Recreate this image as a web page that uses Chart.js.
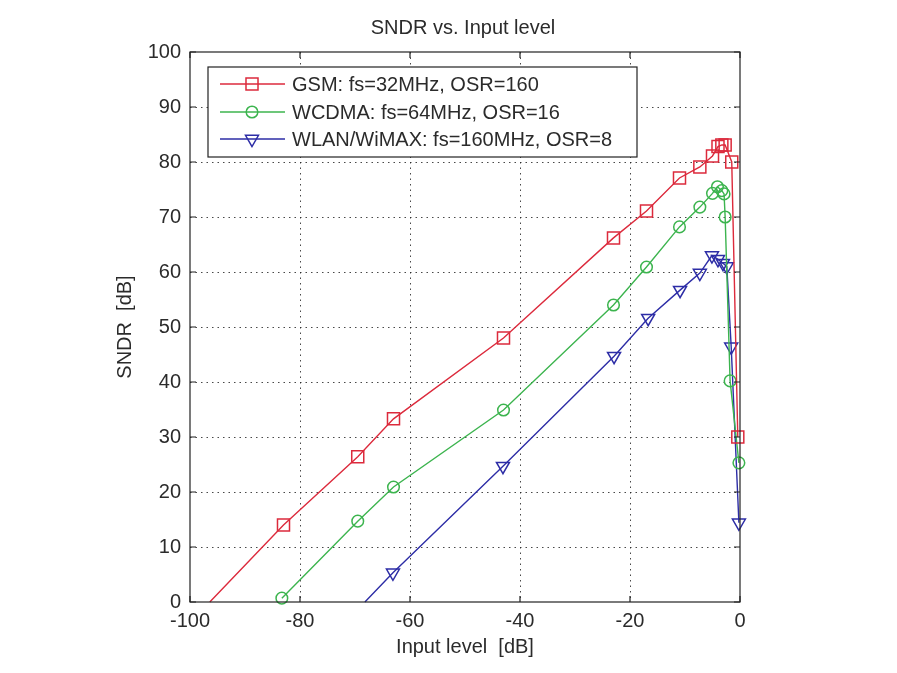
<!DOCTYPE html>
<html lang="en">

<head>
    <meta charset="UTF-8">
    <title>SNDR vs. Input level</title>
    <script src="https://cdn.jsdelivr.net/npm/chart.js"></script>
    <style>
        body {
            margin: 0;
            padding: 0;
            background: #fff;
        }
    </style>
</head>

<body>
    <canvas id="sndrChart" width="897" height="673"></canvas>

    <script>
        // Input level [dB] / SNDR [dB] for each standard
        const gsmLevel = [-96.4, -83, -69.5, -63, -43, -23, -17, -11, -7.3, -5, -4, -3.3, -2.7, -1.5, -0.4];
        const gsmSndr = [0, 14, 26.4, 33.3, 48, 66.2, 71.1, 77.1, 79.1, 81.1, 82.8, 83.1, 83.1, 80, 30];

        const wcdmaLevel = [-83.3, -69.5, -63, -43, -23, -17, -11, -7.3, -5, -4.1, -3.3, -2.9, -2.7, -1.8, -0.2];
        const wcdmaSndr = [0.7, 14.7, 20.9, 34.9, 54, 60.9, 68.2, 71.8, 74.3, 75.5, 74.8, 74.2, 70, 40.2, 25.3];

        const wlanLevel = [-68.2, -63.1, -43.1, -22.9, -16.7, -10.9, -7.3, -5.1, -4, -3.1, -2.4, -1.6, -0.2];
        const wlanSndr = [0, 5.3, 24.7, 44.7, 51.6, 56.7, 59.8, 63, 62.3, 61.6, 61, 46.4, 14.4];

        const seriesNames = [
            'GSM: fs=32MHz, OSR=160',
            'WCDMA: fs=64MHz, OSR=16',
            'WLAN/WiMAX: fs=160MHz, OSR=8'
        ];

        const xTicks = [-100, -80, -60, -40, -20, 0];
        const yTicks = [0, 10, 20, 30, 40, 50, 60, 70, 80, 90, 100];

        const textColor = '#2b2b2b';
        const fontFamily = "'Liberation Sans', Arial, sans-serif";
        Chart.defaults.font.family = fontFamily;
        Chart.defaults.font.size = 20;
        Chart.defaults.color = textColor;

        function toPoints(xs, ys) {
            return xs.map((x, i) => ({ x: x, y: ys[i] }));
        }

        // points sitting on the x axis are just where the line leaves the plot, no marker there
        function markerRadius(ys, r) {
            return ys.map(y => (y === 0 ? 0 : r));
        }

        const styles = [
            { color: '#dc2a3c', pointStyle: 'rect', radius: 8.5, rotation: 0 },
            { color: '#3cb44e', pointStyle: 'circle', radius: 5.8, rotation: 0 },
            { color: '#2d2da6', pointStyle: 'triangle', radius: 7.5, rotation: 180 }
        ];

        function makeDataset(i, xs, ys) {
            const s = styles[i];
            return {
                label: seriesNames[i],
                data: toPoints(xs, ys),
                borderColor: s.color,
                borderWidth: 1.4,
                pointStyle: s.pointStyle,
                pointRadius: markerRadius(ys, s.radius),
                pointRotation: s.rotation,
                pointBorderColor: s.color,
                pointBackgroundColor: 'rgba(0,0,0,0)',
                pointBorderWidth: 1.5,
                tension: 0,
                clip: false
            };
        }

        // dotted grid behind the curves, box with inward ticks and the title on top
        const matlabAxes = {
            id: 'matlabAxes',
            beforeDatasetsDraw(chart) {
                const { ctx, chartArea: a, scales } = chart;
                ctx.save();
                ctx.strokeStyle = 'rgba(40,40,40,0.85)';
                ctx.lineWidth = 1;
                ctx.setLineDash([1.5, 4]);
                xTicks.slice(1, -1).forEach(v => {
                    const px = Math.round(scales.x.getPixelForValue(v)) + 0.5;
                    ctx.beginPath();
                    ctx.moveTo(px, a.top);
                    ctx.lineTo(px, a.bottom);
                    ctx.stroke();
                });
                yTicks.slice(1, -1).forEach(v => {
                    const py = Math.round(scales.y.getPixelForValue(v)) + 0.5;
                    ctx.beginPath();
                    ctx.moveTo(a.left, py);
                    ctx.lineTo(a.right, py);
                    ctx.stroke();
                });
                ctx.restore();
            },
            afterDatasetsDraw(chart) {
                const { ctx, chartArea: a, scales } = chart;
                const tl = 6;
                ctx.save();
                ctx.strokeStyle = '#222';
                ctx.lineWidth = 1.2;
                ctx.strokeRect(a.left, a.top, a.right - a.left, a.bottom - a.top);
                ctx.beginPath();
                xTicks.forEach(v => {
                    const px = scales.x.getPixelForValue(v);
                    ctx.moveTo(px, a.bottom);
                    ctx.lineTo(px, a.bottom - tl);
                    ctx.moveTo(px, a.top);
                    ctx.lineTo(px, a.top + tl);
                });
                yTicks.forEach(v => {
                    const py = scales.y.getPixelForValue(v);
                    ctx.moveTo(a.left, py);
                    ctx.lineTo(a.left + tl, py);
                    ctx.moveTo(a.right, py);
                    ctx.lineTo(a.right - tl, py);
                });
                ctx.stroke();

                // title centred over the whole figure
                ctx.fillStyle = textColor;
                ctx.font = '20px ' + fontFamily;
                ctx.textAlign = 'center';
                ctx.textBaseline = 'middle';
                ctx.fillText('SNDR vs. Input level', 463, 28);
                ctx.restore();
            }
        };

        // boxed legend in the upper left of the plot
        const boxLegend = {
            id: 'boxLegend',
            afterDraw(chart) {
                const ctx = chart.ctx;
                const box = { left: 208, top: 67, right: 637, bottom: 157 };
                const rows = [84, 112, 139];
                ctx.save();
                ctx.fillStyle = '#fff';
                ctx.fillRect(box.left, box.top, box.right - box.left, box.bottom - box.top);
                ctx.strokeStyle = '#222';
                ctx.lineWidth = 1.2;
                ctx.strokeRect(box.left, box.top, box.right - box.left, box.bottom - box.top);

                chart.data.datasets.forEach((ds, i) => {
                    const s = styles[i];
                    const y = rows[i];
                    ctx.strokeStyle = s.color;
                    ctx.lineWidth = 1.4;
                    ctx.beginPath();
                    ctx.moveTo(220, y);
                    ctx.lineTo(285, y);
                    ctx.stroke();
                    ctx.fillStyle = 'rgba(0,0,0,0)';
                    ctx.lineWidth = 1.5;
                    Chart.helpers.drawPoint(ctx, {
                        pointStyle: s.pointStyle,
                        radius: s.radius,
                        rotation: s.rotation,
                        borderWidth: 1.5
                    }, 252, y);
                    ctx.fillStyle = textColor;
                    ctx.font = '20px ' + fontFamily;
                    ctx.textAlign = 'left';
                    ctx.textBaseline = 'middle';
                    ctx.fillText(ds.label, 292, y + 1);
                });
                ctx.restore();
            }
        };

        const ctx = document.getElementById('sndrChart').getContext('2d');
        const chart = new Chart(ctx, {
            type: 'line',
            data: {
                datasets: [
                    makeDataset(0, gsmLevel, gsmSndr),
                    makeDataset(1, wcdmaLevel, wcdmaSndr),
                    makeDataset(2, wlanLevel, wlanSndr)
                ]
            },
            options: {
                responsive: false,
                animation: false,
                layout: { padding: { left: 0, right: 157, top: 52, bottom: 0 } },
                plugins: {
                    legend: { display: false },
                    tooltip: { enabled: false },
                    title: { display: false }
                },
                scales: {
                    x: {
                        type: 'linear',
                        min: -100,
                        max: 0,
                        afterBuildTicks: scale => { scale.ticks = xTicks.map(v => ({ value: v })); },
                        afterFit: scale => { scale.height = 71; },
                        ticks: { padding: 7, color: textColor, font: { size: 20 } },
                        grid: { display: false, drawTicks: false },
                        border: { display: false },
                        title: {
                            display: true,
                            text: 'Input level  [dB]',
                            color: textColor,
                            font: { size: 20 },
                            padding: { top: 0, bottom: 14 }
                        }
                    },
                    y: {
                        type: 'linear',
                        min: 0,
                        max: 100,
                        afterBuildTicks: scale => { scale.ticks = yTicks.map(v => ({ value: v })); },
                        afterFit: scale => { scale.width = 190; },
                        ticks: { padding: 9, color: textColor, font: { size: 20 } },
                        grid: { display: false, drawTicks: false },
                        border: { display: false },
                        title: {
                            display: true,
                            text: 'SNDR  [dB]',
                            color: textColor,
                            font: { size: 20 },
                            padding: { top: 113, bottom: 0 }
                        }
                    }
                }
            },
            plugins: [matlabAxes, boxLegend]
        });
    </script>
</body>

</html>
